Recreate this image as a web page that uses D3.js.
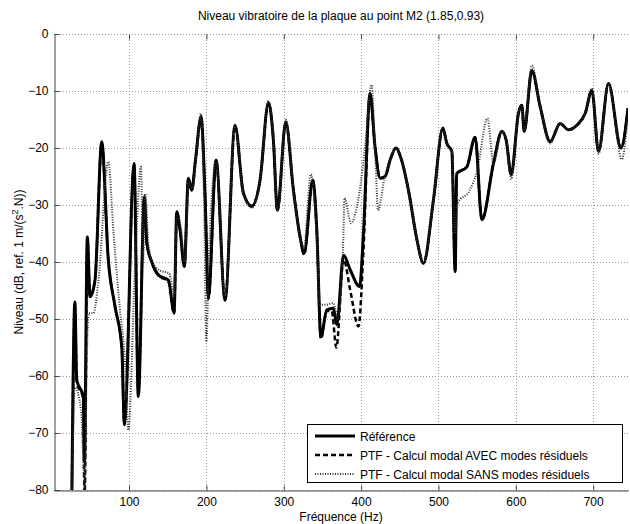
<!DOCTYPE html>
<html>
<head>
<meta charset="utf-8">
<script src="https://cdn.jsdelivr.net/npm/d3@7"></script>
<style>
  body { margin: 0; background: #fff; }
  svg { font-family: "Liberation Sans", Arial, sans-serif; }
</style>
</head>
<body>
<svg width="630" height="524"></svg>
<script>
// values: [frequency (Hz), level (dB)]
var refData = [[26,-82],[30,-47],[32.4,-60.7],[40.9,-63.6],[42.2,-75],[46.1,-35.6],[49.6,-46.1],[56,-43.2],[64.7,-18.9],[73.2,-39.6],[81.9,-47.8],[90.6,-54.9],[94,-68.4],[106.5,-22.7],[112,-63.6],[119.8,-28.5],[123,-36.7],[129.4,-40],[138,-42.3],[151,-43.2],[158.2,-48.9],[161.7,-31.2],[166,-34.4],[171.5,-40.8],[176.7,-25.3],[181,-27.4],[186,-22],[193.1,-14.5],[198.3,-28.5],[202.6,-46.1],[212.5,-22.1],[224.1,-46.7],[237,-16],[247.8,-27.9],[258.7,-30.2],[269.4,-25.6],[280.2,-12],[286.6,-18.6],[291.8,-30.9],[302.6,-15.4],[312.5,-27.4],[321.1,-35.6],[326.3,-38.5],[337.5,-25.6],[342.7,-34.4],[348,-53.1],[355.7,-48.4],[364.2,-48.1],[368.6,-51],[377.3,-38.8],[386,-41.4],[398,-44.3],[403,-35],[411.6,-10.4],[418,-19.8],[424.6,-25.3],[431,-25],[437.5,-22.1],[445,-20],[452,-22],[462,-28],[472,-36],[480.6,-40.2],[493.5,-29.1],[505.7,-16.5],[510.8,-19.2],[517.3,-20.6],[521.6,-41.7],[523.5,-24.5],[536.7,-23.3],[547.4,-18.1],[556.1,-32.6],[571.1,-22.7],[582,-17.1],[587.5,-18.6],[594,-24.7],[603.4,-13.9],[607.8,-12.5],[610.8,-17.1],[620.7,-6.4],[631.4,-12.7],[644.4,-18.9],[657.3,-15.7],[668,-16.8],[678.9,-16],[689.7,-13.9],[698.3,-9.9],[706.9,-20.6],[719.8,-8.7],[735.9,-20],[745,-13]];

var avecData = [[26,-82],[30,-48],[32.4,-61],[40.9,-64],[42.5,-82],[46.1,-36],[49.6,-46],[56,-43],[64.7,-19.2],[73.2,-39.6],[81.9,-47.8],[90.6,-55],[94,-68.6],[106.5,-23],[112,-63],[119.8,-28.8],[123,-36.7],[129.4,-40],[138,-42.3],[151,-43.5],[158.2,-49],[161.7,-31.5],[166,-34.4],[171.5,-40.8],[176.7,-25.5],[181,-27.4],[186,-22],[193.1,-14.8],[198.3,-28.5],[202.6,-46.5],[212.5,-22.3],[224.1,-46.7],[237,-16.2],[247.8,-27.9],[258.7,-30.2],[269.4,-25.6],[280.2,-12.2],[286.6,-18.6],[291.8,-31],[302.6,-15.6],[312.5,-27.4],[321.1,-35.6],[326.3,-38.7],[337.5,-25.8],[342.7,-34.4],[348,-53.5],[355.7,-48.6],[362,-48.6],[368,-55],[377.3,-39.5],[386,-45],[396.6,-51.3],[403,-38],[411.6,-10.6],[418,-19.8],[424.6,-25.3],[431,-25],[437.5,-22.1],[445,-20],[452,-22],[462,-28],[472,-36],[480.6,-40.2],[493.5,-29.1],[505.7,-16.6],[510.8,-19.2],[517.3,-20.6],[521.6,-41.7],[523.5,-24.5],[536.7,-23.3],[547.4,-18.1],[556.1,-32.6],[571.1,-22.7],[582,-17.1],[587.5,-18.6],[594,-24.7],[603.4,-13.9],[607.8,-12.5],[610.8,-17.1],[620.7,-6.4],[631.4,-12.7],[644.4,-18.9],[657.3,-15.7],[668,-16.8],[678.9,-16],[689.7,-13.9],[698.3,-9.9],[706.9,-20.6],[719.8,-8.7],[735.9,-20],[745,-13]];

var sansData = [[26,-82],[30,-62],[38,-66],[43,-80],[45,-60],[48,-49],[53.9,-49],[60,-44],[73.2,-22.4],[80,-35],[88,-48],[95,-58],[99,-69.5],[108,-40],[115.5,-23.3],[118,-40],[121,-28],[125,-37],[130,-40],[140,-41.5],[152,-42],[158,-46],[162,-32],[167,-34],[172,-40],[177,-26],[182,-27],[187,-21],[193,-14],[197,-30],[200,-54],[203,-40],[212.5,-22.5],[224,-46],[237,-16],[248,-28],[259,-30.5],[270,-25],[280,-11.8],[287,-18.6],[292,-31],[302.6,-15],[312.5,-27],[321,-35.6],[326,-37.5],[335,-24.6],[342,-34],[347,-47.5],[355,-47.5],[364,-47.2],[370,-50],[377,-36],[378.5,-28.8],[387,-33.2],[395,-30],[405,-20],[413.4,-8.9],[418,-20],[421.9,-30.9],[430,-25.5],[437.5,-22.1],[445,-20],[452,-22],[462,-28],[472,-36],[480.6,-40.2],[493.5,-29.1],[505.7,-16.5],[510.8,-19.2],[517.3,-20.6],[521.6,-35],[524.6,-29.7],[540,-27.5],[550,-24],[563.4,-14.8],[571.1,-22.7],[582,-17.1],[587.5,-18.6],[594,-25.5],[603.4,-13.9],[607.8,-12.5],[610.8,-17.1],[620.7,-5.5],[631.4,-12.7],[644.4,-19.2],[657.3,-15.7],[668,-16.8],[678.9,-16],[689.7,-13.9],[698.3,-9.5],[706.9,-21],[719.8,-8.7],[737,-22],[745,-14]];

var xTicks = [100, 200, 300, 400, 500, 600, 700];
var yTicks = [0, -10, -20, -30, -40, -50, -60, -70, -80];
var legendLabels = ["Référence", "PTF - Calcul modal AVEC modes résiduels", "PTF - Calcul modal SANS modes résiduels"];

var svg = d3.select("svg"),
    pLeft = 54, pRight = 628, pTop = 34, pBottom = 490;

var x = d3.scaleLinear().domain([3, 745]).range([pLeft, pRight]);
var y = d3.scaleLinear().domain([-80, 0]).range([pBottom, pTop]);

svg.append("clipPath").attr("id", "plot")
  .append("rect").attr("x", pLeft).attr("y", pTop)
  .attr("width", pRight - pLeft).attr("height", pBottom - pTop);

// grid
var grid = svg.append("g").style("stroke", "#999").style("stroke-dasharray", "1,2").style("stroke-width", 1);
grid.selectAll("line.gx").data(xTicks).enter().append("line")
    .attr("x1", function(d) { return Math.round(x(d)) + 0.5; })
    .attr("x2", function(d) { return Math.round(x(d)) + 0.5; })
    .attr("y1", pTop).attr("y2", pBottom);
grid.selectAll("line.gy").data(yTicks).enter().append("line")
    .attr("x1", pLeft).attr("x2", pRight)
    .attr("y1", function(d) { return Math.round(y(d)) + 0.5; })
    .attr("y2", function(d) { return Math.round(y(d)) + 0.5; });

// axes
var xAxis = svg.append("g").attr("transform", "translate(0," + (pBottom + 0.5) + ")")
    .call(d3.axisBottom(x).tickValues(xTicks).tickSizeInner(-5).tickSizeOuter(0).tickPadding(7));
var xTop = svg.append("g").attr("transform", "translate(0," + (pTop + 0.5) + ")")
    .call(d3.axisTop(x).tickValues(xTicks).tickSizeInner(-5).tickSizeOuter(0).tickFormat(""));
xTop.select(".domain").remove();
var yAxis = svg.append("g").attr("transform", "translate(" + (pLeft + 0.5) + ",0)")
    .call(d3.axisLeft(y).tickValues(yTicks).tickSizeInner(-5).tickSizeOuter(0).tickPadding(6));

svg.selectAll(".tick text").style("font-size", "12px").style("fill", "#000")
    .style("font-family", "'Liberation Sans', Arial, sans-serif");
svg.selectAll(".domain, .tick line").style("stroke", "#444");

// curves
var line = d3.line()
    .x(function(d) { return x(d[0]); })
    .y(function(d) { return y(d[1]); })
    .curve(d3.curveMonotoneX);

var curves = svg.append("g").attr("clip-path", "url(#plot)");
curves.append("path").datum(refData)
    .attr("d", line).style("fill", "none").style("stroke", "#000").style("stroke-width", 3)
    .style("stroke-linejoin", "round");
curves.append("path").datum(avecData)
    .attr("d", line).style("fill", "none").style("stroke", "#000").style("stroke-width", 2.5)
    .style("stroke-dasharray", "5,3");
curves.append("path").datum(sansData)
    .attr("d", line).style("fill", "none").style("stroke", "#333").style("stroke-width", 2)
    .style("stroke-dasharray", "1,1.5");

// titles
svg.append("text").attr("x", (pLeft + pRight) / 2).attr("y", 20)
    .attr("text-anchor", "middle").style("font-size", "12px")
    .text("Niveau vibratoire de la plaque au point M2 (1.85,0.93)");
svg.append("text").attr("x", (pLeft + pRight) / 2).attr("y", 521)
    .attr("text-anchor", "middle").style("font-size", "12px")
    .text("Fréquence (Hz)");
var yl = svg.append("text").attr("transform", "translate(23," + ((pTop + pBottom) / 2) + ") rotate(-90)")
    .attr("text-anchor", "middle").style("font-size", "12px");
yl.append("tspan").text("Niveau (dB, ref. 1 m/(s");
yl.append("tspan").attr("dy", -5).style("font-size", "9px").text("2");
yl.append("tspan").attr("dy", 5).text(".N))");

// legend
var legend = svg.append("g");
legend.append("rect").attr("x", 307.5).attr("y", 424.5).attr("width", 315).attr("height", 58)
    .style("fill", "#fff").style("stroke", "#000").style("stroke-width", 1);
var styles = [
  {w: 3, dash: null, c: "#000"},
  {w: 2.5, dash: "5,3", c: "#000"},
  {w: 2, dash: "1,1.5", c: "#333"}
];
var rows = legend.selectAll("g.row").data(legendLabels).enter().append("g")
    .attr("transform", function(d, i) { return "translate(0," + (436 + i * 19) + ")"; });
rows.append("line").attr("x1", 315).attr("x2", 355).attr("y1", 0).attr("y2", 0)
    .style("stroke", function(d, i) { return styles[i].c; })
    .style("stroke-width", function(d, i) { return styles[i].w; })
    .style("stroke-dasharray", function(d, i) { return styles[i].dash; });
rows.append("text").attr("x", 360).attr("y", 4.5).style("font-size", "12px")
    .text(function(d) { return d; });
</script>
</body>
</html>
